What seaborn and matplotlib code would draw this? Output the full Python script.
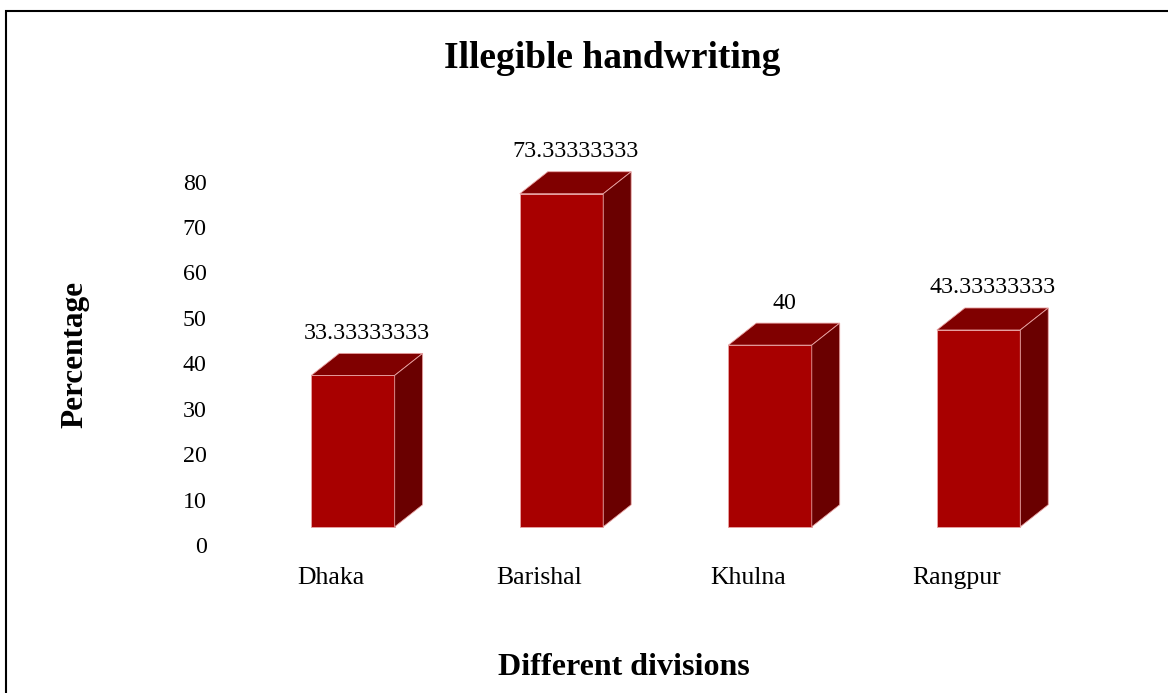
import matplotlib
matplotlib.use("Agg")
import matplotlib.pyplot as plt
from matplotlib.patches import Polygon, Rectangle
import seaborn as sns

divisions = ["Dhaka", "Barishal", "Khulna", "Rangpur"]
percent = [33.33333333, 73.33333333, 40, 43.33333333]
value_labels = ["33.33333333", "73.33333333", "40", "43.33333333"]
yticks = [0, 10, 20, 30, 40, 50, 60, 70, 80]

front = "#a80000"
top_col = "#800000"
side_col = "#6a0000"

# fake 3d: floor offset and depth (data units)
floor = 4
dx, dy = 0.134, 4.85

sns.set_style("white")
plt.rcParams["font.family"] = ["Liberation Serif", "DejaVu Serif"]
plt.rcParams["text.color"] = "black"
plt.rcParams["axes.labelcolor"] = "black"
plt.rcParams["xtick.color"] = "black"
plt.rcParams["ytick.color"] = "black"

fig = plt.figure(figsize=(11.68, 6.93), dpi=100)
ax = fig.add_axes([0.184, 0.192, 0.749, 0.635])

sns.barplot(x=divisions, y=percent, bottom=floor, width=0.4, color=front,
            saturation=1, errorbar=None, edgecolor="#e9a3a3", linewidth=0.6, ax=ax)

for p, lab in zip(ax.patches, value_labels):
    x0, y0 = p.get_x(), p.get_y()
    x1, y1 = x0 + p.get_width(), y0 + p.get_height()
    ax.add_patch(Polygon([(x0, y1), (x1, y1), (x1 + dx, y1 + dy), (x0 + dx, y1 + dy)],
                         closed=True, fc=top_col, ec="#e9a3a3", lw=0.6))
    ax.add_patch(Polygon([(x1, y0), (x1 + dx, y0 + dy), (x1 + dx, y1 + dy), (x1, y1)],
                         closed=True, fc=side_col, ec="#e9a3a3", lw=0.6))
    ax.annotate(lab, ((x0 + x1) / 2 + dx / 2, y1 + dy), xytext=(0, 20),
                textcoords="offset pixels", ha="center", va="center", fontsize=17.3)

ax.set_xlim(-0.662, 3.533)
ax.set_ylim(-3.3, 93.6)
ax.set_yticks(yticks)
ax.set_yticklabels([str(t) for t in yticks], fontsize=17.3)
ax.set_xticks([i - 0.105 for i in range(len(divisions))])
ax.set_xticklabels(divisions, fontsize=18.5)
ax.tick_params(axis="y", length=0, pad=5.8)
ax.tick_params(axis="x", length=0, pad=5)
sns.despine(ax=ax, left=True, bottom=True)

ax.set_xlabel("Different divisions", fontsize=23, fontweight="bold")
ax.set_ylabel("Percentage", fontsize=22.5, fontweight="bold")
ax.xaxis.set_label_coords(0.467, -0.211)
ax.yaxis.set_label_coords(-0.143, 0.466)
ax.text(0.454, 1.14, "Illegible handwriting", transform=ax.transAxes,
        ha="center", va="center", fontsize=27, fontweight="bold")

fig.patches.append(Rectangle((6 / 1168, -0.05), 1.2, 682 / 693 + 0.05,
                             transform=fig.transFigure, fill=False, ec="black", lw=1.5))

fig.savefig("out.png", dpi=100)
